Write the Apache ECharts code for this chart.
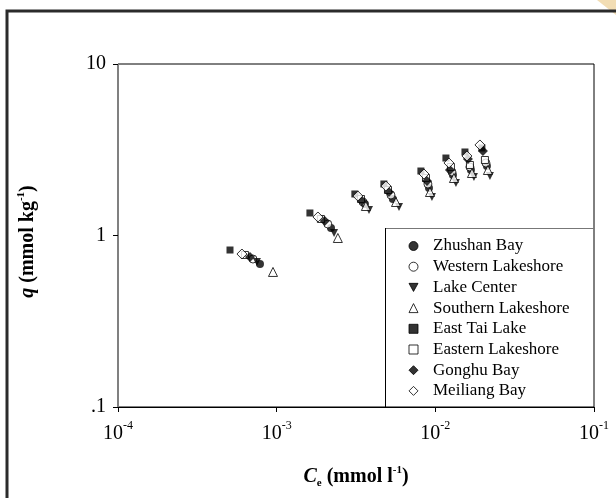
<!DOCTYPE html>
<html><head><meta charset="utf-8">
<script src="https://cdn.jsdelivr.net/npm/echarts@6/dist/echarts.min.js"></script>
<style>html,body{margin:0;padding:0;background:#fff}#c{width:616px;height:498px}</style>
</head><body><div id="c"></div>
<script>
const sites = ['Zhushan Bay','Western Lakeshore','Lake Center','Southern Lakeshore','East Tai Lake','Eastern Lakeshore','Gonghu Bay','Meiliang Bay'];
const xTicks = [1e-4, 1e-3, 1e-2, 1e-1];
const yTicks = [0.1, 1, 10];
const yTickLabels = ['.1', '1', '10'];

const zhushanCe   = [7.85e-4, 2.20e-3, 3.60e-3, 5.40e-3, 9.12e-3, 1.291e-2, 1.676e-2, 2.114e-2];
const zhushanQ    = [0.682, 1.106, 1.527, 1.632, 1.892, 2.253, 2.409, 2.542];
const westernCe   = [7.09e-4, 2.10e-3, 3.50e-3, 5.25e-3, 8.98e-3, 1.273e-2, 1.652e-2, 2.084e-2];
const westernQ    = [0.729, 1.167, 1.568, 1.723, 1.997, 2.346, 2.508, 2.647];
const centerCe    = [7.51e-4, 2.30e-3, 3.82e-3, 5.90e-3, 9.52e-3, 1.349e-2, 1.751e-2, 2.208e-2];
const centerQ     = [0.701, 1.034, 1.408, 1.466, 1.677, 2.024, 2.193, 2.223];
const southernCe  = [9.48e-4, 2.43e-3, 3.65e-3, 5.65e-3, 9.25e-3, 1.310e-2, 1.701e-2, 2.145e-2];
const southernQ   = [0.613, 0.967, 1.486, 1.568, 1.793, 2.164, 2.314, 2.409];
const eastTaiCe   = [5.08e-4, 1.62e-3, 3.11e-3, 4.74e-3, 8.11e-3, 1.166e-2, 1.537e-2, 1.966e-2];
const eastTaiQ    = [0.823, 1.353, 1.746, 1.997, 2.377, 2.830, 3.069, 3.238];
const easternCe   = [6.31e-4, 1.90e-3, 3.40e-3, 5.03e-3, 8.73e-3, 1.254e-2, 1.652e-2, 2.054e-2];
const easternQ    = [0.770, 1.248, 1.632, 1.842, 2.164, 2.508, 2.577, 2.756];
const gonghuCe    = [6.79e-4, 2.01e-3, 3.45e-3, 5.10e-3, 8.86e-3, 1.236e-2, 1.605e-2, 1.995e-2];
const gonghuQ     = [0.749, 1.215, 1.589, 1.793, 2.078, 2.409, 2.793, 3.110];
const meiliangCe  = [6.04e-4, 1.82e-3, 3.25e-3, 4.88e-3, 8.48e-3, 1.218e-2, 1.582e-2, 1.910e-2];
const meiliangQ   = [0.780, 1.282, 1.699, 1.944, 2.284, 2.647, 2.908, 3.372];

const ceData = [zhushanCe, westernCe, centerCe, southernCe, eastTaiCe, easternCe, gonghuCe, meiliangCe];
const qData  = [zhushanQ, westernQ, centerQ, southernQ, eastTaiQ, easternQ, gonghuQ, meiliangQ];

const downTri = 'path://M0,0L20,0L10,18Z';
const symbols = ['circle','circle',downTri,'triangle','rect','rect','diamond','diamond'];
const hollow  = [false,true,false,true,false,true,false,true];
const sizes   = [8,8,8,9,7,7,10,10];
const font = 'Liberation Serif';

const chart = echarts.init(document.getElementById('c'), null, {renderer:'canvas'});
const series = sites.map((name, i) => ({
  name, type:'scatter', symbol: symbols[i], symbolSize: sizes[i],
  data: ceData[i].map((c, j) => [c, qData[i][j]]),
  itemStyle: hollow[i] ? {color:'#fff', borderColor:'#000', borderWidth:1} : {color:'#000', borderColor:'#000', borderWidth:0},
  silent:true, animation:false, z: 3 + i
}));

chart.setOption({
  backgroundColor:'#fff',
  animation:false,
  grid:{left:118, right:22, top:64, bottom:91, show:true, borderColor:'#000', borderWidth:1, backgroundColor:'transparent'},
  xAxis:{
    type:'log', logBase:10, min:1e-4, max:1e-1,
    axisLine:{lineStyle:{color:'#000', width:1}},
    axisTick:{show:true, inside:false, length:5, lineStyle:{color:'#000'}},
    minorTick:{show:false}, splitLine:{show:false},
    axisLabel:{margin:13, fontFamily:font, color:'#000',
      formatter: v => '{b|10}{s|' + Math.round(Math.log10(v)) + '}',
      rich:{b:{fontSize:20, fontFamily:font, color:'#000', lineHeight:24, verticalAlign:'bottom'},
            s:{fontSize:12, fontFamily:font, color:'#000', lineHeight:24, verticalAlign:'top'}}},
    name:'{i|C}{sub|e}{b| (mmol l}{s|-1}{b|)}',
    nameLocation:'middle', nameGap:58,
    nameTextStyle:{fontFamily:font, color:'#000',
      rich:{i:{fontSize:20, fontWeight:'bold', fontStyle:'italic', fontFamily:font, lineHeight:24},
            sub:{fontSize:11, fontWeight:'bold', fontFamily:font, lineHeight:24, verticalAlign:'bottom'},
            b:{fontSize:20, fontWeight:'bold', fontFamily:font, lineHeight:24},
            s:{fontSize:11, fontWeight:'bold', fontFamily:font, lineHeight:24, verticalAlign:'top'}}}
  },
  yAxis:{
    type:'log', logBase:10, min:0.1, max:10,
    axisLine:{lineStyle:{color:'#808080', width:1}},
    axisTick:{show:true, inside:false, length:5, lineStyle:{color:'#000'}},
    minorTick:{show:false}, splitLine:{show:false},
    axisLabel:{margin:12, fontFamily:font, fontSize:20, color:'#000',
      formatter: v => { const k = yTicks.findIndex(t => Math.abs(Math.log10(t) - Math.log10(v)) < 1e-6); return k >= 0 ? yTickLabels[k] : ''; }},
    name:'{i|q}{b| (mmol kg}{s|-1}{b|)}',
    nameLocation:'middle', nameGap:78, nameRotate:90,
    nameTextStyle:{fontFamily:font, color:'#000', padding:[0,12,0,0],
      rich:{i:{fontSize:20, fontWeight:'bold', fontStyle:'italic', fontFamily:font, lineHeight:24},
            b:{fontSize:20, fontWeight:'bold', fontFamily:font, lineHeight:24},
            s:{fontSize:11, fontWeight:'bold', fontFamily:font, lineHeight:24, verticalAlign:'top'}}}
  },
  legend:{
    orient:'vertical', left:408.5, top:236, padding:0, itemGap:0.7,
    itemWidth:9, itemHeight:9, selectedMode:false,
    itemStyle:{borderWidth:1},
    textStyle:{fontFamily:font, fontSize:17, color:'#000', lineHeight:20, padding:[0,0,0,10]},
    data: sites
  },
  graphic:[
    {type:'polygon', z:0, shape:{points:[[597,0],[616,0],[616,15]]}, style:{fill:'#f2ddb4'}},
    {type:'rect', z:1, shape:{x:7, y:11, width:700, height:600}, style:{fill:'none', stroke:'#2b2b2b', lineWidth:3}},
    {type:'line', z:50, shape:{x1:385, y1:228.5, x2:594, y2:228.5}, style:{stroke:'#777', lineWidth:1}},
    {type:'line', z:50, shape:{x1:385.5, y1:228, x2:385.5, y2:407}, style:{stroke:'#000', lineWidth:1}}
  ],
  series
});
</script></body></html>
